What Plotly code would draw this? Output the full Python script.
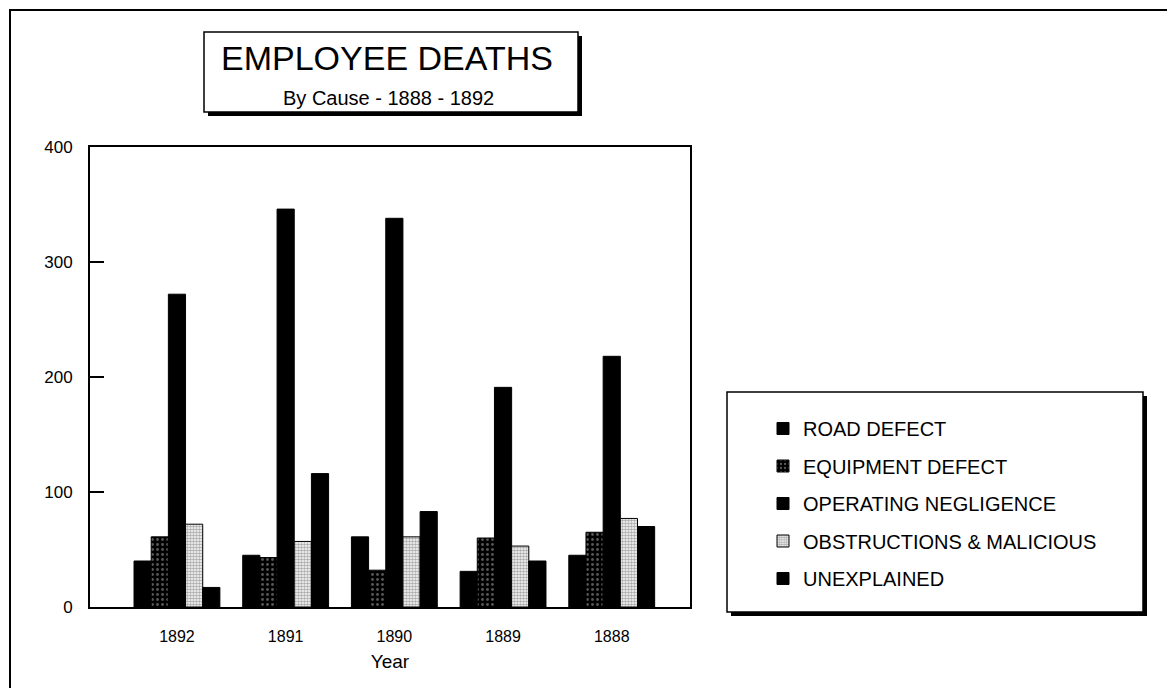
import plotly.graph_objects as go

years = ["1892", "1891", "1890", "1889", "1888"]
road_defect = [40, 45, 61, 31, 45]
equipment_defect = [61, 43, 32, 60, 65]
operating_negligence = [272, 346, 338, 191, 218]
obstructions_malicious = [72, 57, 61, 53, 77]
unexplained = [17, 116, 83, 40, 70]

series_names = ["ROAD DEFECT", "EQUIPMENT DEFECT", "OPERATING NEGLIGENCE",
                "OBSTRUCTIONS & MALICIOUS", "UNEXPLAINED"]
series_values = [road_defect, equipment_defect, operating_negligence,
                 obstructions_malicious, unexplained]

FONT = "Liberation Sans, Arial, sans-serif"

# page is offset by the default 8px body margin
OFF = 8
W, H = 1175, 688
# plot area in page pixels
L, R, T, B = 90, 690, 147, 607
FW, FH = W - OFF, H - OFF


def px(x):
    return (x - L) / (R - L)


def py(y):
    return (B - y) / (B - T)


styles = [
    dict(color="black"),
    dict(color="black", pattern=dict(shape=".", fgcolor="#b0b0b0", bgcolor="black", size=5, solidity=0.25)),
    dict(color="black"),
    dict(color="white", pattern=dict(shape=".", fgcolor="#555555", bgcolor="white", size=3, solidity=0.6)),
    dict(color="black"),
]

fig = go.Figure()
for name, vals, st in zip(series_names, series_values, styles):
    marker = dict(line=dict(color="black", width=1))
    marker.update(st)
    fig.add_trace(go.Bar(x=years, y=vals, name=name, marker=marker, legendgroup=name))

shapes = []
# outer frame
shapes.append(dict(type="rect", xref="paper", yref="paper",
                   x0=px(10), x1=px(1195), y0=py(710), y1=py(10),
                   line=dict(color="black", width=2), fillcolor="rgba(0,0,0,0)", layer="below"))
# title box shadow + box
shapes.append(dict(type="rect", xref="paper", yref="paper",
                   x0=px(208), x1=px(582), y0=py(116), y1=py(36),
                   line=dict(width=0), fillcolor="black"))
shapes.append(dict(type="rect", xref="paper", yref="paper",
                   x0=px(204), x1=px(578), y0=py(112), y1=py(32),
                   line=dict(color="black", width=1.5), fillcolor="white"))
# legend box shadow + box
shapes.append(dict(type="rect", xref="paper", yref="paper",
                   x0=px(731), x1=px(1147), y0=py(616), y1=py(396),
                   line=dict(width=0), fillcolor="black", layer="below"))
shapes.append(dict(type="rect", xref="paper", yref="paper",
                   x0=px(727), x1=px(1143), y0=py(612), y1=py(392),
                   line=dict(color="black", width=1.5), fillcolor="white", layer="below"))

annotations = [
    dict(text="EMPLOYEE DEATHS", xref="paper", yref="paper", x=px(387), y=py(58),
         showarrow=False, font=dict(family=FONT, size=34, color="black"),
         xanchor="center", yanchor="middle"),
    dict(text="By Cause - 1888 - 1892", xref="paper", yref="paper", x=px(388), y=py(98),
         showarrow=False, font=dict(family=FONT, size=20, color="black"),
         xanchor="center", yanchor="middle"),
]

fig.update_layout(
    width=FW, height=FH,
    margin=dict(l=L - OFF, r=W - R, t=T - OFF, b=H - B),
    paper_bgcolor="white", plot_bgcolor="white",
    font=dict(family=FONT, color="black", size=16),
    barmode="group", bargap=0.21, bargroupgap=0,
    shapes=shapes, annotations=annotations,
    showlegend=True,
    legend=dict(xref="container", yref="container",
                x=(763 - OFF) / FW, y=1 - (409 - OFF) / FH, xanchor="left", yanchor="top",
                bgcolor="rgba(0,0,0,0)", borderwidth=0,
                font=dict(family=FONT, size=20, color="black"),
                traceorder="grouped", tracegroupgap=8.5, itemwidth=30),
    xaxis=dict(type="category", range=[-0.8, 4.72], showline=True, linecolor="black",
               linewidth=2, mirror=True, ticks="", showgrid=False,
               tickfont=dict(family=FONT, size=16), ticklabelstandoff=14,
               title=dict(text="Year", font=dict(family=FONT, size=19), standoff=10)),
    yaxis=dict(range=[0, 400], dtick=100, showline=True, linecolor="black", linewidth=2,
               mirror=True, ticks="inside", ticklen=14, tickwidth=2, tickcolor="black",
               showgrid=False, zeroline=False, tickfont=dict(family=FONT, size=17),
               ticklabelstandoff=12),
)

fig.write_html("out.html")
